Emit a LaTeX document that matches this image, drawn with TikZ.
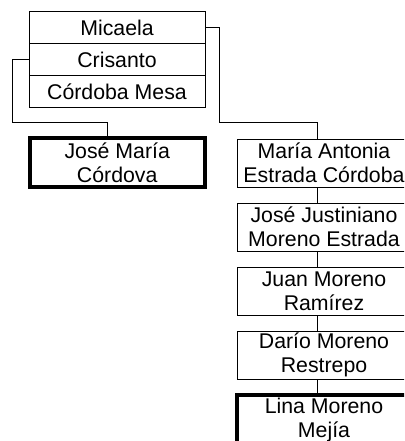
\documentclass[tikz,border=0pt]{standalone}
\usepackage{fontspec}
\setmainfont{Liberation Sans}
\usetikzlibrary{calc}
\begin{document}
\begin{tikzpicture}[x=1pt,y=-1pt,
  box/.style={draw=black,line width=1pt,rectangle,inner sep=0pt,align=center,
    font=\fontsize{21.3}{24}\selectfont,text=black},
  rowbox/.style={box,minimum width=176pt,minimum height=32pt},
  personbox/.style={box,minimum width=174pt,minimum height=48pt},
  endbox/.style={personbox,line width=4pt,minimum height=49pt},
  link/.style={draw=black,line width=1pt}]
\useasboundingbox (0,0) rectangle (404,441);
\fill[white] (0,0) rectangle (404,441);
\clip (0,0) rectangle (404,441);
% top family box
\node[rowbox] (mic) at (117,27.5) {Micaela};
\node[rowbox] (cri) at (117,59.5) {Crisanto};
\node[rowbox] (cor) at (117,91.5) {Córdoba Mesa};
% left descendant
\node[endbox,minimum width=174.5pt] (jmc) at (117.25,162.5) {José María\\Córdova};
% right chain
\node[personbox] (mae) at (324,163) {María Antonia\\Estrada Córdoba};
\node[personbox] (jjm) at (324,227) {José Justiniano\\Moreno Estrada};
\node[personbox] (jmr) at (324,291) {Juan Moreno\\Ramírez};
\node[personbox] (dmr) at (324,355) {Darío Moreno\\Restrepo};
\node[endbox,minimum height=50pt] (lmm) at (324,420) {Lina Moreno\\Mejía};
% connectors
\coordinate (cl) at (12.7,122.7);
\coordinate (cr) at (219.5,122.7);
\draw[link] (cri.west) -| (cl) -| ($(jmc.north)+(-9.5,0)$);
\draw[link] (mic.east) -| (cr) -| ($(mae.north)+(-7,0)$);
\draw[link] ($(mae.south)+(-7,0)$) -- ($(jjm.north)+(-7,0)$);
\draw[link] ($(jjm.south)+(-7,0)$) -- ($(jmr.north)+(-7,0)$);
\draw[link] ($(jmr.south)+(-7,0)$) -- ($(dmr.north)+(-7,0)$);
\draw[link] ($(dmr.south)+(-7,0)$) -- ($(lmm.north)+(-7,0)$);
\end{tikzpicture}
\end{document}
